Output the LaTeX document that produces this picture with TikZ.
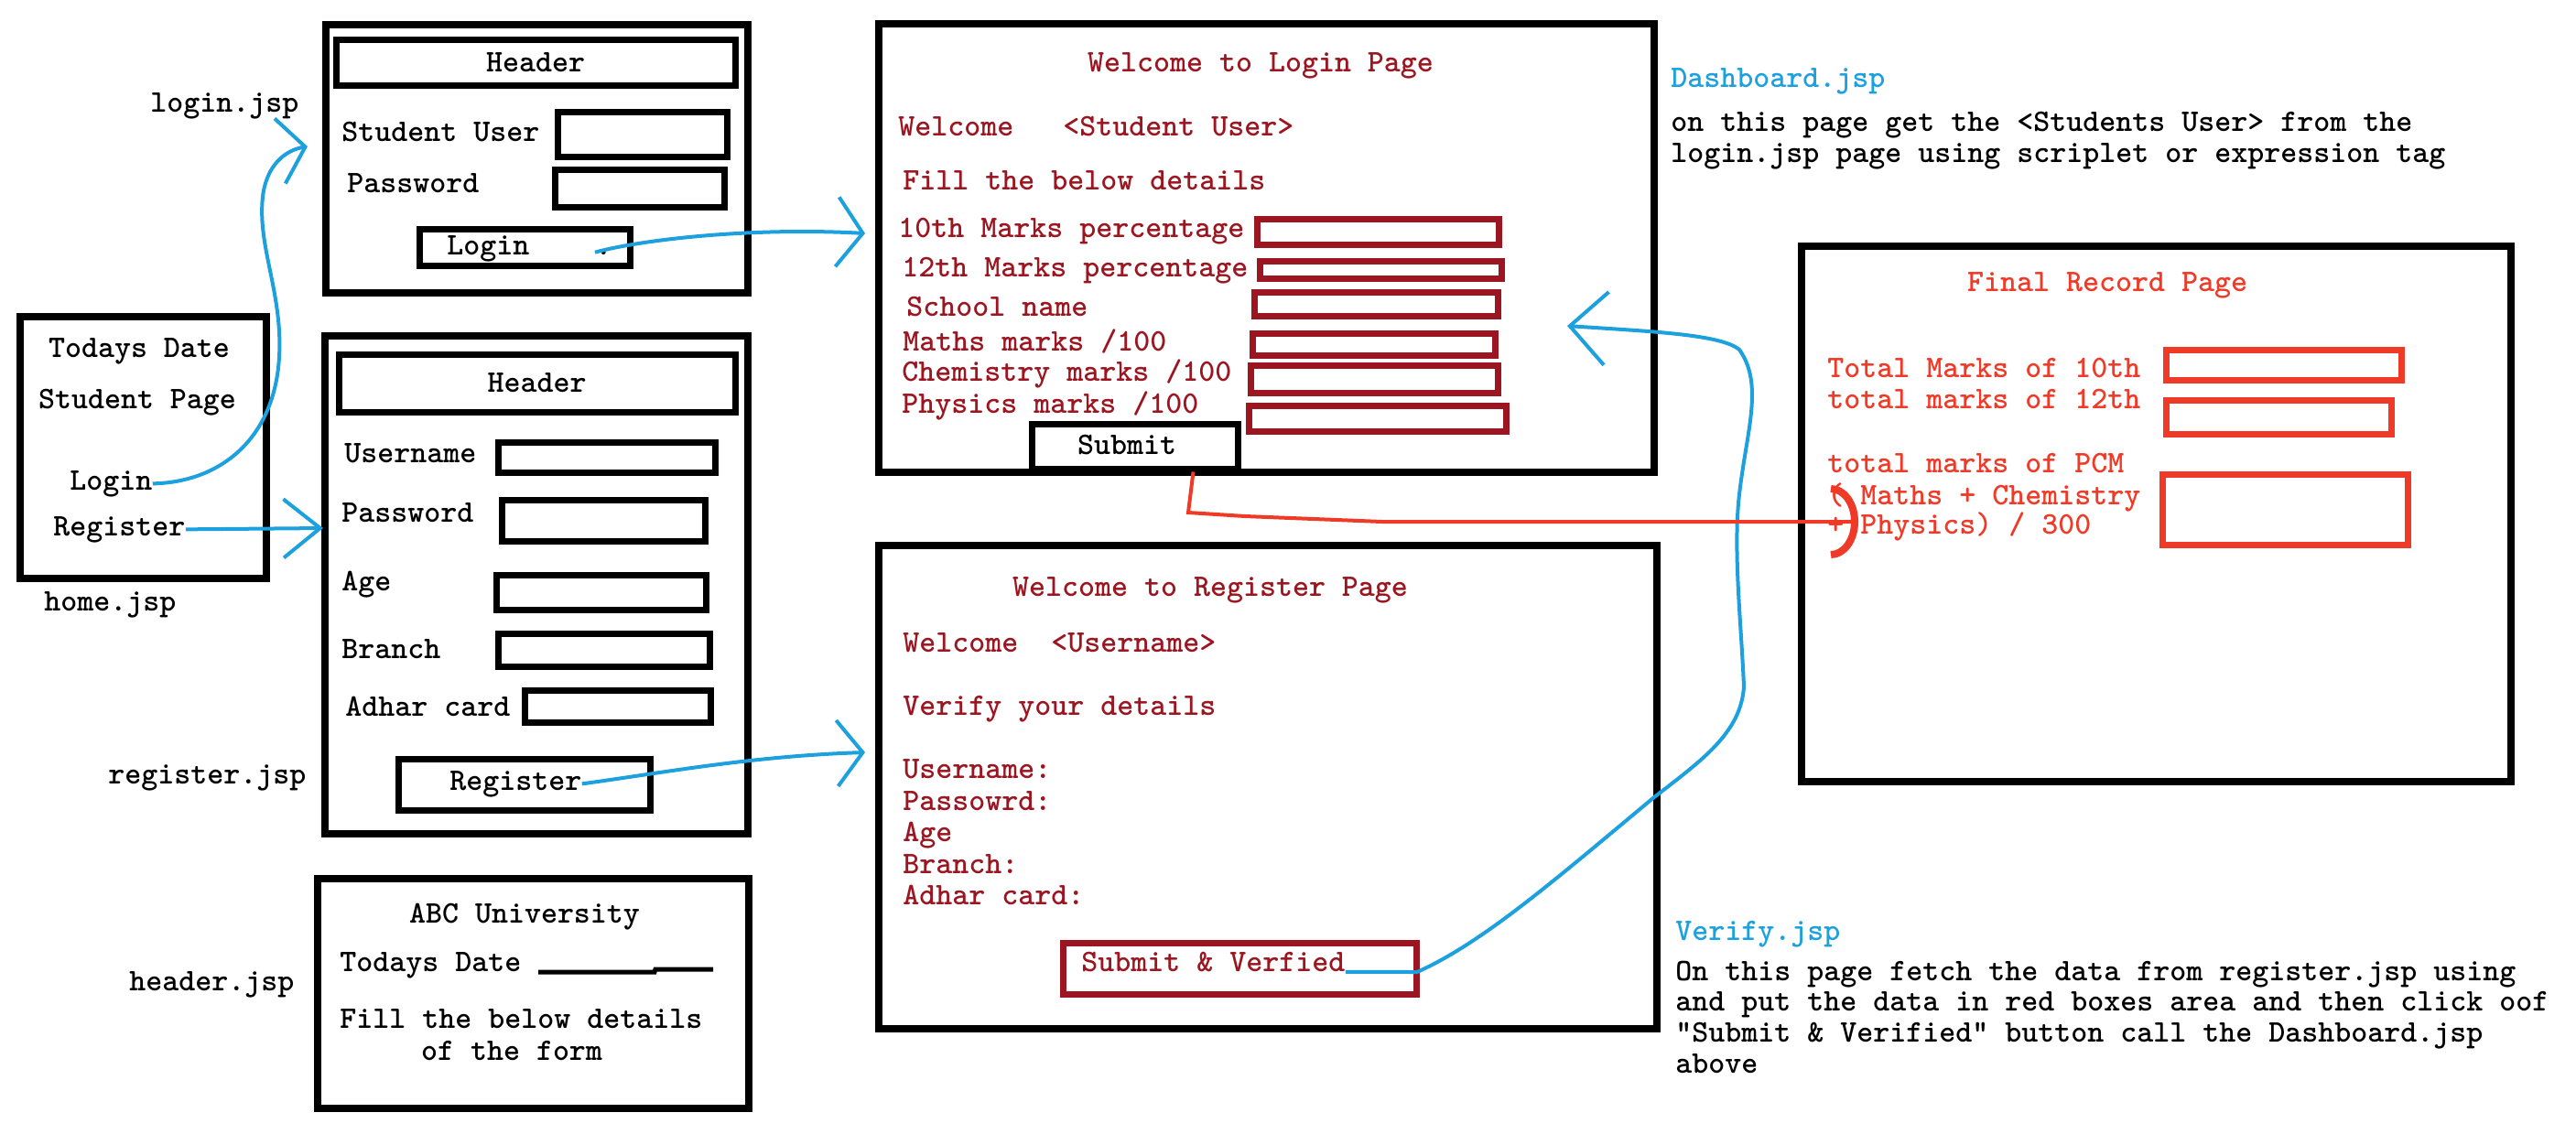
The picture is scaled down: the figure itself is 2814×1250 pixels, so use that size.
\documentclass[tikz,border=0pt]{standalone}
\usepackage{fontspec}
\usepackage{tikz}
\usetikzlibrary{arrows.meta}
\usetikzlibrary{fit}
\usetikzlibrary{calc}

\definecolor{darkred}{RGB}{155,22,32}
\definecolor{brightred}{RGB}{240,58,40}
\definecolor{sketchblue}{RGB}{28,160,222}

\tikzset{
  pagebox/.style={draw, line width=4pt, inner sep=0pt},
  fieldbox/.style={draw, line width=3.5pt, inner sep=0pt},
  txt/.style={anchor=base west, inner sep=0pt},
  ctxt/.style={anchor=base, inner sep=0pt},
  dtxt/.style={txt, text=darkred},
  rtxt/.style={txt, text=brightred},
  btxt/.style={txt, text=sketchblue},
  flow/.style={draw=sketchblue, line width=2pt, -{Straight Barb[length=14pt,width=36pt]}},
  redflow/.style={draw=brightred, line width=2pt, -{Arc Barb[length=15pt,width=40pt,line width=4pt]}},
}

\begin{document}
\begin{tikzpicture}[x=0.5pt,y=0.5pt,yscale=-1,font=\ttfamily\bfseries\fontsize{17.14}{20}\selectfont]
\useasboundingbox (0,0) rectangle (2814,1250);

%Shape: home.jsp
\node[pagebox, fit={(22,346) (291,632)}] (home) {};
% Text Node
\node[ctxt] (hmDate) at (152,390) {Todays Date};
\node[ctxt] (hmTitle) at (150,446) {Student Page};
\node[txt] (hmLogin) at (76,535) {Login};
\node[txt] (hmReg) at (58,585) {Register};
\node[txt] (hmName) at (48,667) {home.jsp};

%Shape: login.jsp
\node[pagebox, fit={(356,27) (817,320)}] (lgform) {};
\node[fieldbox, fit={(367,43) (803,93)}] (lgHead) {};
\node[fieldbox, fit={(609,122) (794,171)}] (lgUserBox) {};
\node[fieldbox, fit={(606,185) (791,226)}] (lgPassBox) {};
\node[fieldbox, fit={(458,250) (688,290)}] (lgBtn) {};
% Text Node
\node (lgHeadTxt) at (lgHead) {Header};
\node[txt] (lgUser) at (373,154) {Student User};
\node[txt] (lgPass) at (379,210) {Password};
\node[txt] (lgBtnTxt) at (488,278) {Login};
\node[txt] (lgDot) at (650,278) {.};
\node[txt] (lgName) at (164,122) {login.jsp};

%Shape: register.jsp
\node[pagebox, fit={(355,367) (817,911)}] (rgform) {};
\node[fieldbox, fit={(370,387) (803,450)}] (rgHead) {};
\node[fieldbox, fit={(544,483) (781,516)}] (rgUserBox) {};
\node[fieldbox, fit={(548,546) (770,591)}] (rgPassBox) {};
\node[fieldbox, fit={(542,628) (771,666)}] (rgAgeBox) {};
\node[fieldbox, fit={(544,692) (775,728)}] (rgBranchBox) {};
\node[fieldbox, fit={(573,754) (776,789)}] (rgAdharBox) {};
\node[fieldbox, fit={(435,829) (710,885)}] (rgBtn) {};
% Text Node
\node (rgHeadTxt) at (rgHead) {Header};
\node[txt] (rgUser) at (376,505) {Username};
\node[txt] (rgPass) at (373,570) {Password};
\node[txt] (rgAge) at (373,645) {Age};
\node[txt] (rgBranch) at (373,719) {Branch};
\node[txt] (rgAdhar) at (377,782) {Adhar card};
\node[txt] (rgBtnTxt) at (491,863) {Register};
\node[txt] (rgName) at (118,856) {register.jsp};

%Shape: header.jsp
\node[pagebox, fit={(347,960) (818,1211)}] (hdform) {};
% Text Node
\node[ctxt] (hdUni) at (573,1008) {ABC University};
\node[txt] (hdDate) at (371,1061) {Todays Date};
\draw[line width=2.5pt] (588,1062) -- (715,1062) -- (716,1059) -- (779,1059);
\node[txt] (hdFill) at (371,1123) {Fill the below details};
\node[ctxt] (hdForm) at (559,1158) {of the form};
\node[txt] (hdName) at (141,1082) {header.jsp};

%Shape: login page
\node[pagebox, fit={(960,26) (1807,516)}] (lgpage) {};
\node[fieldbox, draw=darkred, fit={(1373,239) (1637,267)}] (lpTenBox) {};
\node[fieldbox, draw=darkred, fit={(1376,285) (1640,304)}] (lpTwelveBox) {};
\node[fieldbox, draw=darkred, fit={(1370,319) (1636,345)}] (lpSchoolBox) {};
\node[fieldbox, draw=darkred, fit={(1368,364) (1633,388)}] (lpMathsBox) {};
\node[fieldbox, draw=darkred, fit={(1366,399) (1636,429)}] (lpChemBox) {};
\node[fieldbox, draw=darkred, fit={(1364,443) (1645,471)}] (lpPhysBox) {};
\node[fieldbox, fill=white, fit={(1127,463) (1352,512)}] (sbBtn) {};
% Text Node
\node[ctxt, text=darkred] (lpTitle) at (1377,78) {Welcome to Login Page};
\node[dtxt] (lpWelcome) at (981,148) {Welcome\ \ \ <Student User>};
\node[dtxt] (lpFill) at (986,207) {Fill the below details};
\node[dtxt] (lpTen) at (981,259) {10th Marks percentage};
\node[dtxt] (lpTwelve) at (985,302) {12th Marks percentage};
\node[dtxt] (lpSchool) at (990,345) {School name};
\node[dtxt] (lpMaths) at (986,383) {Maths marks /100};
\node[dtxt] (lpChem) at (985,416) {Chemistry marks /100};
\node[dtxt] (lpPhys) at (985,451) {Physics marks /100};
\node[ctxt] (sbTxt) at (1231,496) {Submit};

%Shape: register page
\node[pagebox, fit={(960,596) (1810,1124)}] (rgpage) {};
\node[fieldbox, draw=darkred, fit={(1161,1030) (1547,1086)}] (svBtn) {};
% Text Node
\node[ctxt, text=darkred] (rpTitle) at (1322,651) {Welcome to Register Page};
\node[dtxt] (rpWelcome) at (986,712) {Welcome\ \ <Username>};
\node[dtxt] (rpVerify) at (986,781) {Verify your details};
\node[dtxt] (rpUser) at (986,850) {Username:};
\node[dtxt] (rpPass) at (986,885) {Passowrd:};
\node[dtxt] (rpAge) at (986,919) {Age};
\node[dtxt] (rpBranch) at (986,954) {Branch:};
\node[dtxt] (rpAdhar) at (986,988) {Adhar card:};
\node[dtxt] (svTxt) at (1181,1061) {Submit \& Verfied};

% Text Node: Dashboard.jsp
\node[btxt] (dbName) at (1825,95) {Dashboard.jsp};
\node[txt] (dbLineA) at (1825,143) {on this page get the <Students User> from the};
\node[txt] (dbLineB) at (1825,177) {login.jsp page using scriplet or expression tag};

%Shape: final record page
\node[pagebox, fit={(1968,269) (2743,854)}] (frpage) {};
\node[fieldbox, draw=brightred, fit={(2366,382) (2623,415)}] (frTenBox) {};
\node[fieldbox, draw=brightred, fit={(2366,437) (2612,474)}] (frTwelveBox) {};
\node[fieldbox, draw=brightred, fit={(2362,518) (2630,595)}] (frPcmBox) {};
% Text Node
\node[ctxt, text=brightred] (frTitle) at (2302,318) {Final Record Page};
\node[rtxt] (frTen) at (1996,412) {Total Marks of 10th};
\node[rtxt] (frTwelve) at (1996,446) {total marks of 12th};
\node[rtxt] (frPcm) at (1996,516) {total marks of PCM};
\node[rtxt] (frPcmA) at (1996,551) {( Maths + Chemistry};
\node[rtxt] (frPcmB) at (1996,583) {+ Physics) / 300};

% Text Node: Verify.jsp
\node[btxt] (vfName) at (1830,1027) {Verify.jsp};
\node[txt] (vfLineA) at (1830,1071) {On this page fetch the data from register.jsp using};
\node[txt] (vfLineB) at (1830,1104) {and put the data in red boxes area and then click oof};
\node[txt] (vfLineC) at (1830,1138) {"Submit \& Verified" button call the Dashboard.jsp};
\node[txt] (vfLineD) at (1830,1172) {above};

% Connectors
\coordinate (tipA) at (336,160);
\coordinate (tipB) at (353,577);
\coordinate (tipC) at (945,255);
\coordinate (tipD) at (945,822);
\coordinate (tipE) at (1712,356);
\coordinate (tipF) at (2030,570);

\draw[flow] (hmLogin.east) .. controls (240,527) and (300,480) .. (305,390) .. controls (309,320) and (281,270) .. (287,215) .. controls (291,180) and (312,164) .. (tipA);
\draw[flow, -{Straight Barb[length=20pt,width=32pt]}] (hmReg.east) -- (tipB);
\draw[flow, -{Straight Barb[length=14pt,width=38pt]}] (lgDot.west) .. controls (700,262) and (820,248) .. (tipC);
\draw[flow] (rgBtnTxt.east) .. controls (720,845) and (820,826) .. (tipD);
\draw[flow, -{Straight Barb[length=20pt,width=40pt]}] (svTxt.south east) -- (1548,1062) .. controls (1620,1030) and (1700,960) .. (1807,871) .. controls (1860,830) and (1902,800) .. (1905,750) .. controls (1902,680) and (1893,600) .. (1900,540) .. controls (1908,470) and (1927,420) .. (1900,382) .. controls (1880,365) and (1800,362) .. (tipE);
\draw[redflow] ($(sbBtn.south)+(64,0)$) -- (1298,560) -- (1360,564) -- (1510,570) -- (tipF);

\end{tikzpicture}
\end{document}
